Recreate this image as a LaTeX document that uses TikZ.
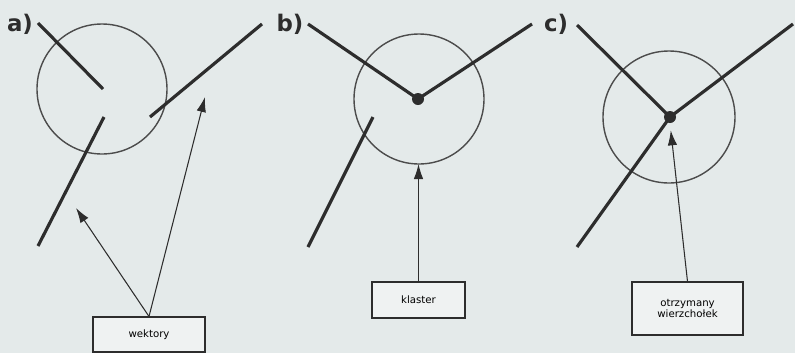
\documentclass[tikz,border=0pt]{standalone}
\usepackage{fontspec}
\setmainfont{DejaVu Sans}
\usetikzlibrary{arrows.meta}
\definecolor{paper}{RGB}{228,234,234}
\definecolor{ink}{RGB}{45,45,45}

\begin{document}
\begin{tikzpicture}[
  vec/.style={draw=ink, line width=1.8pt},
  ring/.style={draw=ink!85, line width=0.8pt},
  knot/.style={circle, fill=ink, inner sep=0pt, minimum size=0.24cm},
  tag/.style={draw=ink, fill=white!40!paper, line width=0.6pt, align=center, font=\fontsize{5.8}{6.8}\selectfont},
  pointer/.style={draw=ink, line width=0.6pt, -{Latex[length=3mm,width=1.9mm]}},
  panel/.style={font=\fontsize{13}{15}\selectfont\bfseries, text=ink}
]
\fill[paper] (0,0) rectangle (15.9,7.06);
\useasboundingbox (0,0) rectangle (15.9,7.06);

% a) loose vectors
\node[panel] (la) at (0.40,6.58) {a)};
\draw[ring] (2.04,5.28) circle (1.30);
\coordinate (a1) at (0.76,6.60);
\coordinate (a2) at (2.06,5.28);
\coordinate (a3) at (2.08,4.72);
\coordinate (a4) at (0.76,2.14);
\coordinate (a5) at (3.00,4.72);
\coordinate (a6) at (5.24,6.58);
\draw[vec] (a1) -- (a2);
\draw[vec] (a3) -- (a4);
\draw[vec] (a5) -- (a6);
\node[tag, minimum width=2.24cm, minimum height=0.70cm] (wek) at (2.98,0.37) {wektory};
\coordinate (ta) at (1.52,2.90);
\coordinate (tb) at (4.10,5.12);
\draw[pointer] (wek.north) -- (ta);
\draw[pointer] (wek.north) -- (tb);

% b) cluster
\node[panel] (lb) at (5.80,6.58) {b)};
\draw[ring] (8.38,5.08) circle (1.30);
\node[knot] (kb) at (8.36,5.08) {};
\coordinate (b1) at (6.16,6.58);
\coordinate (b2) at (10.64,6.58);
\coordinate (b3) at (7.46,4.72);
\coordinate (b4) at (6.16,2.12);
\draw[vec] (b1) -- (kb.center) -- (b2);
\draw[vec] (b3) -- (b4);
\node[tag, minimum width=1.86cm, minimum height=0.72cm] (kl) at (8.37,1.06) {klaster};
\coordinate (tc) at (8.37,3.78);
\draw[pointer] (kl.north) -- (tc);

% c) resulting vertex
\node[panel] (lc) at (11.12,6.58) {c)};
\draw[ring] (13.38,4.72) circle (1.32);
\node[knot] (kc) at (13.40,4.72) {};
\coordinate (c1) at (11.54,6.56);
\coordinate (c2) at (15.86,6.58);
\coordinate (c3) at (11.54,2.12);
\draw[vec] (c1) -- (kc.center) -- (c2);
\draw[vec] (kc.center) -- (c3);
\node[tag, minimum width=2.22cm, minimum height=1.06cm] (wz) at (13.75,0.89) {otrzymany\\wierzchołek};
\draw[pointer, shorten >=0.14cm] (wz.north) -- (kc.south);
\end{tikzpicture}
\end{document}
